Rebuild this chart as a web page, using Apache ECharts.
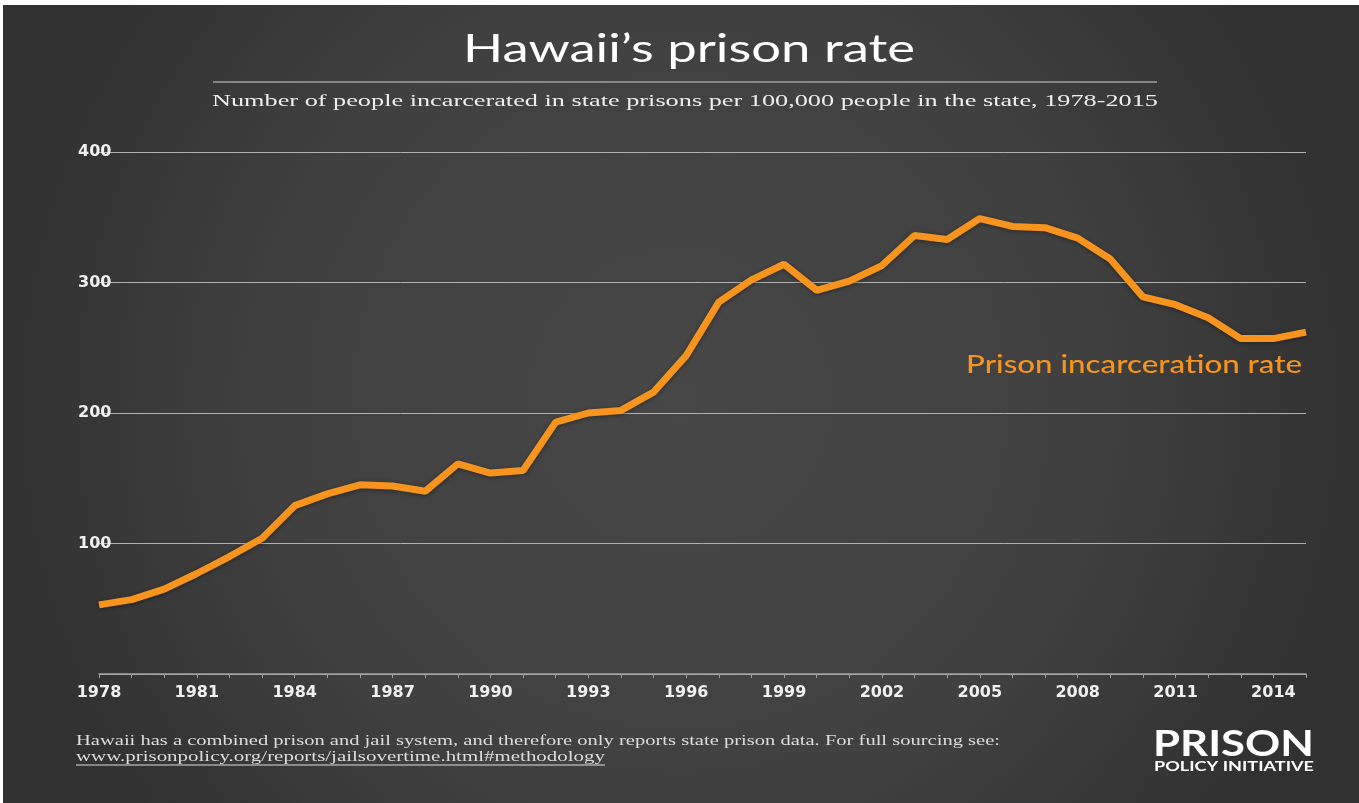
<!DOCTYPE html>
<html>
<head>
<meta charset="utf-8">
<script src="https://cdn.jsdelivr.net/npm/echarts@6/dist/echarts.min.js"></script>
<style>
html,body{margin:0;padding:0;background:#fff;}
#c{width:1359px;height:803px;}
</style>
</head>
<body>
<div id="c"></div>
<script>
const years = ['1978','1979','1980','1981','1982','1983','1984','1985','1986','1987','1988','1989','1990','1991','1992','1993','1994','1995','1996','1997','1998','1999','2000','2001','2002','2003','2004','2005','2006','2007','2008','2009','2010','2011','2012','2013','2014','2015'];
const prisonRate = [53,57,65,77,90,104,129,138,145,144,140,161,154,156,193,200,202,216,244,285,302,314,294,301,313,336,333,349,343,342,334,318,289,283,273,257,257,262];
const yTicks = [100,200,300,400];
const titleText = 'Hawaii\u2019s prison rate';
const subtitleText = 'Number of people incarcerated in state prisons per 100,000 people in the state, 1978-2015';
const seriesLabel = 'Prison incarceration rate';
const noteText = 'Hawaii has a combined prison and jail system, and therefore only reports state prison data. For full sourcing see:';
const urlText = 'www.prisonpolicy.org/reports/jailsovertime.html#methodology';
const logoTop = 'PRISON';
const logoBottom = 'POLICY INITIATIVE';

const ctx = document.createElement('canvas').getContext('2d');
function tw(text, font){ ctx.font = font; return ctx.measureText(text).width; }
function fitText(text, font, targetW, x, y, align, fill){
  const s = targetW / tw(text, font);
  return {type:'text', x:x, y:y, scaleX:s, silent:true,
    style:{text:text, font:font, fill:fill, textAlign:align, textVerticalAlign:'middle'}};
}

const geo = 'Lato, "Open Sans", sans-serif';
const wide = '"DejaVu Sans", Lato, sans-serif';
const serif = '"Liberation Serif", "DejaVu Serif", serif';

const fTitle = '400 39px ' + geo;
const fSub = '17px ' + serif;
const fSeries = '500 25px ' + geo;
const fNote = '15px ' + serif;
const fLogo1 = '700 37px ' + geo;
const fLogo2 = '700 13px ' + geo;

const chart = echarts.init(document.getElementById('c'), null, {renderer:'canvas'});
chart.setOption({
  backgroundColor: {type:'radial', x:0.5, y:0.5, r:0.85,
    colorStops:[{offset:0,color:'#474747'},{offset:0.6,color:'#404040'},{offset:1,color:'#313131'}]},
  animation:false,
  grid:{left:99, right:53, top:152, bottom:129},
  xAxis:{
    type:'category', data:years, boundaryGap:false,
    axisLine:{show:true, lineStyle:{color:'#a0a0a0', width:1.5}},
    axisTick:{show:true, interval:0, length:4, lineStyle:{color:'#a0a0a0'}},
    axisLabel:{interval:2, color:'#f0f0f0', fontFamily:wide, fontSize:16, fontWeight:'bold', margin:11},
    splitLine:{show:false}
  },
  yAxis:{
    type:'value', min:0, max:400, interval:100,
    axisLine:{show:false}, axisTick:{show:false},
    axisLabel:{color:'#f0f0f0', fontFamily:wide, fontSize:16, fontWeight:'bold', align:'left', margin:21,
      formatter:function(v){return yTicks.indexOf(v)>=0 ? String(v) : '';}},
    splitLine:{lineStyle:{color:'#b0b0b0', width:1}}
  },
  series:[{
    type:'line', data:prisonRate, symbol:'none',
    lineStyle:{color:'#f7941d', width:7, shadowColor:'rgba(0,0,0,0.4)', shadowBlur:4, shadowOffsetY:1},
    z:5
  }],
  graphic:[
    {type:'rect', shape:{x:0,y:0,width:1359,height:5}, style:{fill:'#ffffff'}, silent:true},
    {type:'rect', shape:{x:0,y:0,width:3,height:803}, style:{fill:'#ffffff'}, silent:true},
    fitText(titleText, fTitle, 452, 689, 49, 'center', '#ffffff'),
    {type:'line', shape:{x1:213,y1:82,x2:1157,y2:82}, style:{stroke:'#a0a0a0', lineWidth:1.5}, silent:true},
    fitText(subtitleText, fSub, 946, 685, 102, 'center', '#eeeeee'),
    fitText(seriesLabel, fSeries, 336, 1302, 365, 'right', '#f7941d'),
    fitText(noteText, fNote, 924, 76, 741, 'left', '#dddddd'),
    fitText(urlText, fNote, 529, 76, 757, 'left', '#dddddd'),
    {type:'line', shape:{x1:76,y1:765,x2:605,y2:765}, style:{stroke:'#dddddd', lineWidth:1}, silent:true},
    fitText(logoTop, fLogo1, 161, 1153, 744, 'left', '#ffffff'),
    fitText(logoBottom, fLogo2, 160, 1154, 767, 'left', '#ffffff')
  ]
});
</script>
</body>
</html>
